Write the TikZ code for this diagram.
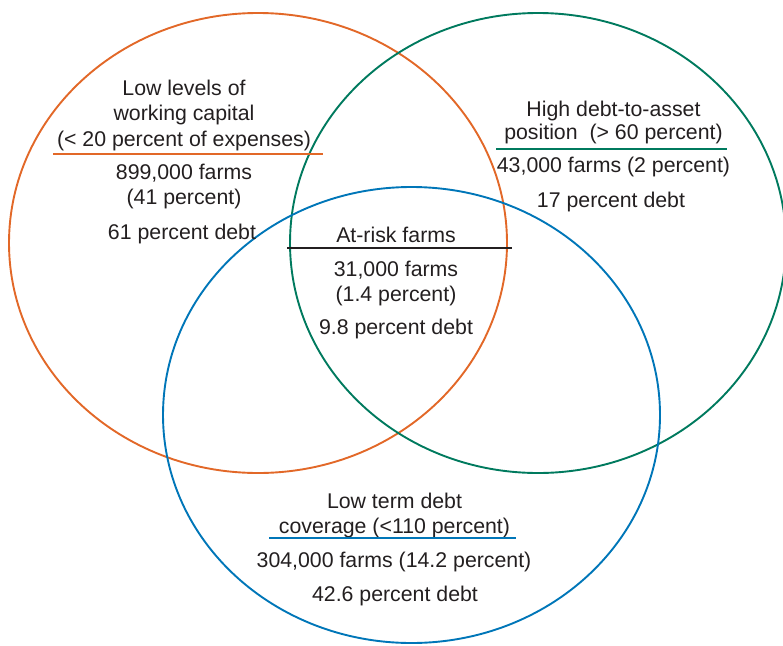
\documentclass[tikz,border=0pt]{standalone}
\usepackage{fontspec}
\setmainfont{Liberation Sans}
\definecolor{corange}{RGB}{226,104,40}
\definecolor{cgreen}{RGB}{0,122,94}
\definecolor{cblue}{RGB}{0,118,184}
\definecolor{ctext}{RGB}{35,31,32}
\begin{document}
\begin{tikzpicture}[x=1pt,y=-1pt,
  ring/.style={line width=1.9pt},
  lbl/.style={anchor=base,inner sep=0pt,text=ctext,font=\fontsize{21.3}{25}\selectfont},
  rule/.style={line width=1.1pt}]
\useasboundingbox (0,0) rectangle (783,645);
% circles
\draw[ring,corange] (258,243) ellipse [x radius=249,y radius=230];
\draw[ring,cgreen] (538,243) ellipse [x radius=248,y radius=230];
\draw[ring,cblue] (411.5,415) ellipse [x radius=248.5,y radius=228];
% orange group
\node[lbl] (o1) at (184,95) {Low levels of};
\node[lbl] (o2) at (184,120) {working capital};
\node[lbl] (o3) at (184,146) {(< 20 percent of expenses)};
\coordinate (oa) at (53,154); \coordinate (ob) at (323,154);
\draw[rule,corange] (oa) -- (ob);
\node[lbl] (o4) at (184,179) {899,000 farms};
\node[lbl] (o5) at (184,204) {(41 percent)};
\node[lbl] (o6) at (182,239) {61 percent debt};
% green group
\node[lbl] (g1) at (613.5,116) {High debt-to-asset};
\node[lbl] (g2) at (613.5,139) {position\ \ (> 60 percent)};
\coordinate (ga) at (496,149); \coordinate (gb) at (727,149);
\draw[rule,cgreen] (ga) -- (gb);
\node[lbl] (g3) at (613.5,172) {43,000 farms (2 percent)};
\node[lbl] (g4) at (611,207) {17 percent debt};
% centre group
\node[lbl] (c1) at (396,242) {At-risk farms};
\coordinate (ca) at (287,248); \coordinate (cb) at (512,248);
\draw[rule,ctext] (ca) -- (cb);
\node[lbl] (c2) at (396,276) {31,000 farms};
\node[lbl] (c3) at (396,301) {(1.4 percent)};
\node[lbl] (c4) at (396,334) {9.8 percent debt};
% blue group
\node[lbl] (b1) at (394.5,508) {Low term debt};
\node[lbl] (b2) at (394.5,533) {coverage (<110 percent)};
\coordinate (ba) at (269,538); \coordinate (bb) at (516,538);
\draw[rule,cblue] (ba) -- (bb);
\node[lbl] (b3) at (394,567) {304,000 farms (14.2 percent)};
\node[lbl] (b4) at (395,601) {42.6 percent debt};
\end{tikzpicture}
\end{document}
